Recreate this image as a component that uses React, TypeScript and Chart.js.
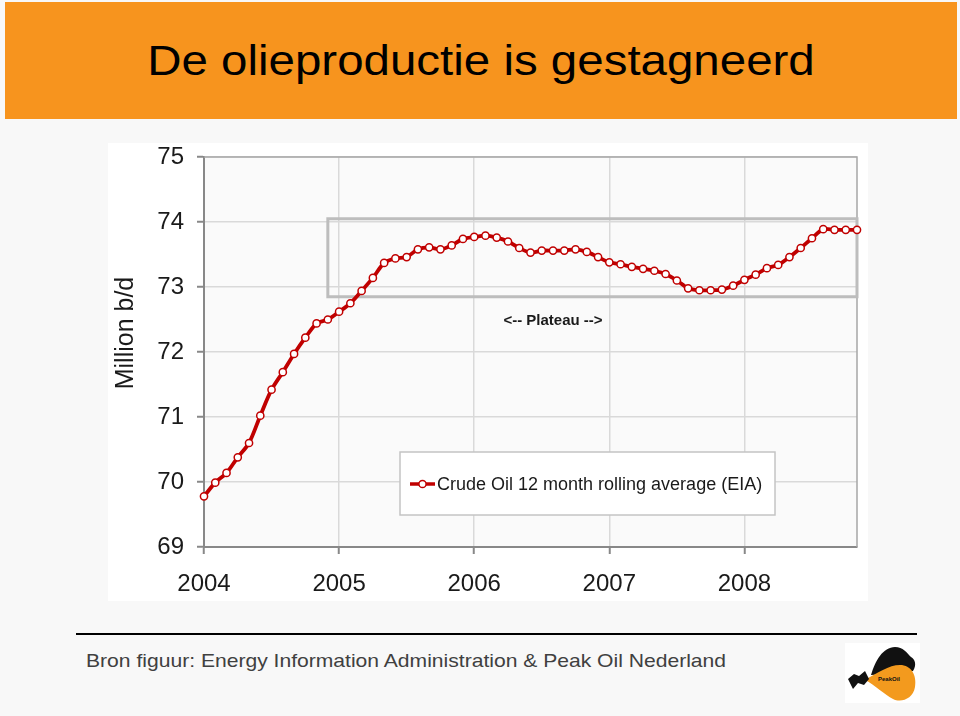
import React, { useEffect, useRef } from 'react';
import { Chart, registerables } from 'chart.js';

Chart.register(...registerables);

const TITLE = 'De olieproductie is gestagneerd';
const SOURCE = 'Bron figuur: Energy Information Administration & Peak Oil Nederland';
const SERIES_LABEL = 'Crude Oil 12 month rolling average (EIA)';
const Y_TITLE = 'Million b/d';

const MONTHS = [
  '2004-01', '2004-02', '2004-03', '2004-04', '2004-05', '2004-06', '2004-07', '2004-08', '2004-09', '2004-10', '2004-11', '2004-12',
  '2005-01', '2005-02', '2005-03', '2005-04', '2005-05', '2005-06', '2005-07', '2005-08', '2005-09', '2005-10', '2005-11', '2005-12',
  '2006-01', '2006-02', '2006-03', '2006-04', '2006-05', '2006-06', '2006-07', '2006-08', '2006-09', '2006-10', '2006-11', '2006-12',
  '2007-01', '2007-02', '2007-03', '2007-04', '2007-05', '2007-06', '2007-07', '2007-08', '2007-09', '2007-10', '2007-11', '2007-12',
  '2008-01', '2008-02', '2008-03', '2008-04', '2008-05', '2008-06', '2008-07', '2008-08', '2008-09', '2008-10', '2008-11',
];

const PRODUCTION = [
  69.78, 69.99, 70.14, 70.38, 70.60, 71.02, 71.42, 71.69, 71.97, 72.22, 72.44, 72.50,
  72.62, 72.75, 72.94, 73.14, 73.37, 73.44, 73.46, 73.58, 73.61, 73.58, 73.64, 73.74,
  73.77, 73.79, 73.76, 73.70, 73.60, 73.53, 73.56, 73.56, 73.56, 73.58, 73.54, 73.46,
  73.38, 73.35, 73.31, 73.28, 73.25, 73.20, 73.10, 72.98, 72.95, 72.95, 72.96, 73.02,
  73.11, 73.19, 73.29, 73.34, 73.46, 73.60, 73.75, 73.89, 73.88, 73.88, 73.88,
];

const YEAR_LABELS = ['2004', '2005', '2006', '2007', '2008'];
const Y_MIN = 69;
const Y_MAX = 75;

// Plateau annotation (data coordinates)
const PLATEAU_FROM = '2004-12';
const PLATEAU_TO = '2008-11';
const PLATEAU_TOP = 74.05;
const PLATEAU_BOTTOM = 72.85;
const PLATEAU_LABEL = '<-- Plateau -->';
const PLATEAU_LABEL_AT = '2006-08';
const PLATEAU_LABEL_VALUE = 72.48;

const RED = '#c00000';
const FONT = '"Liberation Sans", Arial, sans-serif';

const decorPlugin = {
  id: 'decor',
  beforeDraw(chart: any) {
    const { ctx, chartArea: ca } = chart;
    ctx.save();
    ctx.fillStyle = '#ffffff';
    ctx.fillRect(0, 0, chart.width, chart.height);
    ctx.fillStyle = '#fafafa';
    ctx.fillRect(ca.left, ca.top, ca.right - ca.left, ca.bottom - ca.top);
    ctx.restore();
  },
  beforeDatasetsDraw(chart: any) {
    const { ctx, chartArea: ca, scales } = chart;
    const xs = scales.x;
    const ys = scales.y;
    ctx.save();
    // plot border (top / right)
    ctx.strokeStyle = '#a6a6a6';
    ctx.lineWidth = 1.5;
    ctx.beginPath();
    ctx.moveTo(ca.left, ca.top);
    ctx.lineTo(ca.right, ca.top);
    ctx.lineTo(ca.right, ca.bottom);
    ctx.stroke();
    // plateau box
    const x0 = xs.getPixelForValue(MONTHS.indexOf(PLATEAU_FROM));
    const x1 = xs.getPixelForValue(MONTHS.indexOf(PLATEAU_TO));
    const y0 = ys.getPixelForValue(PLATEAU_TOP);
    const y1 = ys.getPixelForValue(PLATEAU_BOTTOM);
    ctx.strokeStyle = '#bdbdbd';
    ctx.lineWidth = 3;
    ctx.strokeRect(x0, y0, x1 - x0, y1 - y0);
    // plateau label
    ctx.fillStyle = '#1a1a1a';
    ctx.font = 'bold 15px ' + FONT;
    ctx.textAlign = 'center';
    ctx.textBaseline = 'middle';
    ctx.fillText(
      PLATEAU_LABEL,
      xs.getPixelForValue(MONTHS.indexOf(PLATEAU_LABEL_AT)),
      ys.getPixelForValue(PLATEAU_LABEL_VALUE)
    );
    ctx.restore();
  },
  afterDraw(chart: any) {
    const { ctx, chartArea: ca } = chart;
    ctx.save();
    // y-axis title
    ctx.translate(ca.left - 78, ca.top + 176);
    ctx.rotate(-Math.PI / 2);
    ctx.fillStyle = '#1a1a1a';
    ctx.font = '25px ' + FONT;
    ctx.textAlign = 'center';
    ctx.textBaseline = 'middle';
    ctx.fillText(Y_TITLE, 0, 0);
    ctx.restore();

    // legend box
    ctx.save();
    const lx = ca.left + 196;
    const ly = ca.top + 295;
    const lw = 375;
    const lh = 63;
    ctx.fillStyle = '#ffffff';
    ctx.fillRect(lx, ly, lw, lh);
    ctx.strokeStyle = '#c4c4c4';
    ctx.lineWidth = 1.5;
    ctx.strokeRect(lx, ly, lw, lh);
    const cy = ly + 32;
    ctx.strokeStyle = RED;
    ctx.lineWidth = 3.5;
    ctx.beginPath();
    ctx.moveTo(lx + 10, cy);
    ctx.lineTo(lx + 35, cy);
    ctx.stroke();
    ctx.beginPath();
    ctx.arc(lx + 22.5, cy, 3.6, 0, Math.PI * 2);
    ctx.fillStyle = '#ffffff';
    ctx.fill();
    ctx.lineWidth = 1.5;
    ctx.stroke();
    ctx.fillStyle = '#1a1a1a';
    ctx.font = '18px ' + FONT;
    ctx.textAlign = 'left';
    ctx.textBaseline = 'middle';
    ctx.fillText(chart.data.datasets[0].label, lx + 37, cy + 1);
    ctx.restore();
  },
};

function OilChart() {
  const ref = useRef<HTMLCanvasElement | null>(null);
  useEffect(() => {
    if (!ref.current) return;
    const chart = new Chart(ref.current, {
      type: 'line',
      data: {
        labels: MONTHS,
        datasets: [
          {
            label: SERIES_LABEL,
            data: PRODUCTION,
            borderColor: RED,
            borderWidth: 3.8,
            pointRadius: 3.6,
            pointBorderWidth: 1.5,
            pointBackgroundColor: '#ffffff',
            pointBorderColor: RED,
            tension: 0.3,
            clip: 8,
          } as any,
        ],
      },
      options: {
        animation: false,
        responsive: false,
        maintainAspectRatio: false,
        layout: { padding: { top: 14, right: 11, left: 0, bottom: 0 } },
        plugins: {
          legend: { display: false },
          tooltip: { enabled: false },
        },
        scales: {
          x: {
            type: 'category',
            offset: false,
            grid: {
              offset: false,
              color: '#d9d9d9',
              lineWidth: 1.5,
              tickColor: '#888888',
              tickLength: 7,
              tickWidth: 2,
            },
            border: { color: '#888888', width: 2 },
            ticks: {
              autoSkip: false,
              maxRotation: 0,
              padding: 16,
              color: '#1a1a1a',
              font: { family: FONT, size: 24 },
              callback: (_v: any, i: number) => YEAR_LABELS[i],
            },
            afterBuildTicks: (scale: any) => {
              scale.ticks = scale.ticks.filter((t: any) => MONTHS[t.value].endsWith('-01'));
            },
            afterFit: (scale: any) => {
              scale.height = 54;
              scale.paddingLeft = 0;
              scale.paddingRight = 0;
            },
          },
          y: {
            type: 'linear',
            min: Y_MIN,
            max: Y_MAX,
            grid: {
              color: '#d9d9d9',
              lineWidth: 1.5,
              tickColor: '#888888',
              tickLength: 7,
              tickWidth: 2,
            },
            border: { color: '#888888', width: 2 },
            ticks: {
              stepSize: 1,
              padding: 13,
              color: '#1a1a1a',
              font: { family: FONT, size: 24 },
            },
            afterFit: (scale: any) => {
              scale.width = 96;
              scale.paddingTop = 0;
              scale.paddingBottom = 0;
            },
          },
        },
      },
      plugins: [decorPlugin],
    } as any);
    return () => chart.destroy();
  }, []);
  return (
    <canvas
      ref={ref}
      width={760}
      height={458}
      style={{ position: 'absolute', left: 108, top: 143, width: 760, height: 458 }}
    />
  );
}

function Logo() {
  return (
    <svg
      width={75}
      height={60}
      viewBox="0 0 75 60"
      style={{ position: 'absolute', left: 845, top: 643 }}
    >
      <rect x={0} y={0} width={75} height={60} fill="#ffffff" />
      <path d="M26 32 C30 18, 38 4, 50 4 C58 4, 62 10, 66 14 C70 16, 72 22, 68 28 L58 30 Z" fill="#111" />
      <path d="M20 37 C32 30, 44 22, 55 22 C66 22, 72 32, 70 44 C68 56, 56 60, 48 56 C40 52, 30 42, 20 37 Z" fill="#f39a1e" />
      <path d="M3 36 L9 31 L14 33 L20 28 L24 36 L19 42 L13 40 L8 46 Z" fill="#111" />
      <text x={33} y={38} fontSize={6} fontWeight="bold" fontFamily={FONT} fill="#111">
        PeakOil
      </text>
    </svg>
  );
}

export default function App() {
  return (
    <div
      style={{
        position: 'absolute',
        left: 0,
        top: 0,
        width: 960,
        height: 716,
        background: '#f8f8f8',
        overflow: 'hidden',
        fontFamily: FONT,
      }}
    >
      <div style={{ position: 'absolute', left: 5, top: 2, width: 952, height: 117, background: '#f7941e' }} />
      <div
        style={{
          position: 'absolute',
          left: 0,
          top: 37,
          width: 962,
          textAlign: 'center',
          fontSize: 42,
          lineHeight: '48px',
          color: '#000',
          whiteSpace: 'nowrap',
          transform: 'scaleX(1.13)',
          transformOrigin: '481px 0',
        }}
      >
        {TITLE}
      </div>
      <OilChart />
      <div style={{ position: 'absolute', left: 76, top: 633, width: 841, height: 2, background: '#000' }} />
      <div
        style={{
          position: 'absolute',
          left: 86,
          top: 651,
          fontSize: 19,
          lineHeight: '20px',
          color: '#404040',
          whiteSpace: 'nowrap',
          transform: 'scaleX(1.11)',
          transformOrigin: '0 0',
        }}
      >
        {SOURCE}
      </div>
      <Logo />
    </div>
  );
}
